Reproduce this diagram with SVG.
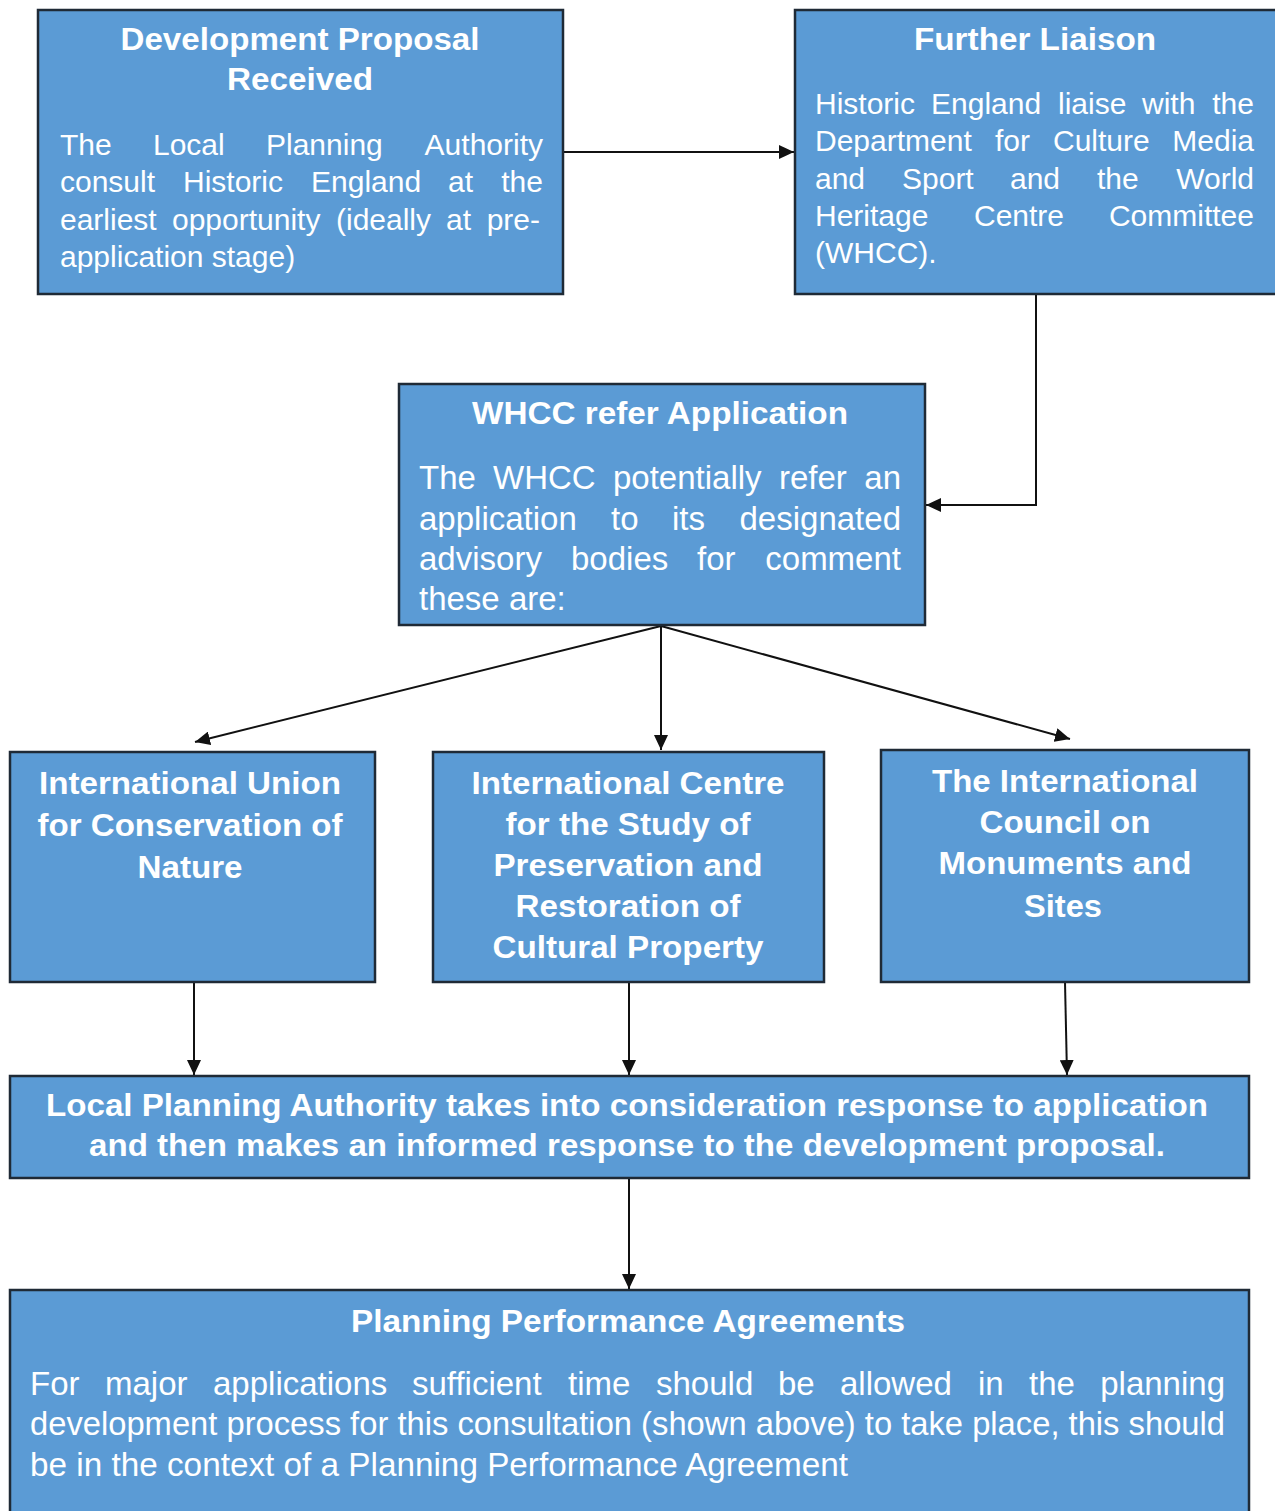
<svg xmlns="http://www.w3.org/2000/svg" width="1275" height="1511" viewBox="0 0 1275 1511">
<style>
.box{fill:#5b9bd5;stroke:#1f2a36;stroke-width:2.5}
.t{font-family:"Liberation Sans",Arial,sans-serif;fill:#ffffff}
.h{font-weight:bold;font-size:32px;text-anchor:middle}
.b{font-size:30px}
.b3{font-size:33px}
.b8{font-size:33px}
.c{fill:none;stroke:#111;stroke-width:2}
</style>
<defs>
<marker id="ah" markerUnits="userSpaceOnUse" markerWidth="16" markerHeight="14" refX="15" refY="7" orient="auto">
<path d="M0,0 L15,7 L0,14 Z" fill="#111"/>
</marker>
</defs>
<rect width="1275" height="1511" fill="#ffffff"/>
<g id="connectors">
<line class="c" x1="563" y1="152" x2="794" y2="152" marker-end="url(#ah)"/>
<polyline class="c" points="1036,294 1036,505 926,505" marker-end="url(#ah)"/>
<line class="c" x1="661" y1="626" x2="195" y2="742" marker-end="url(#ah)"/>
<line class="c" x1="661" y1="626" x2="661" y2="750" marker-end="url(#ah)"/>
<line class="c" x1="661" y1="626" x2="1070" y2="739" marker-end="url(#ah)"/>
<line class="c" x1="194" y1="982" x2="194" y2="1075" marker-end="url(#ah)"/>
<line class="c" x1="629" y1="982" x2="629" y2="1075" marker-end="url(#ah)"/>
<line class="c" x1="1065" y1="982" x2="1067" y2="1075" marker-end="url(#ah)"/>
<line class="c" x1="629" y1="1178" x2="629" y2="1289" marker-end="url(#ah)"/>
</g>
<g id="dev-proposal">
<rect class="box" x="38" y="10" width="525" height="284"/>
<text class="t h" x="300" y="50" textLength="359" lengthAdjust="spacingAndGlyphs">Development Proposal</text>
<text class="t h" x="300" y="90" textLength="146" lengthAdjust="spacingAndGlyphs">Received</text>
<text class="t b" y="155"><tspan x="60">The</tspan><tspan x="153">Local</tspan><tspan x="266">Planning</tspan><tspan x="543" text-anchor="end">Authority</tspan></text>
<text class="t b" y="192"><tspan x="60">consult</tspan><tspan x="183">Historic</tspan><tspan x="311">England</tspan><tspan x="448">at</tspan><tspan x="543" text-anchor="end">the</tspan></text>
<text class="t b" y="230"><tspan x="60">earliest</tspan><tspan x="172">opportunity</tspan><tspan x="336">(ideally</tspan><tspan x="446">at</tspan><tspan x="540" text-anchor="end">pre-</tspan></text>
<text class="t b" x="60" y="267">application stage)</text>
</g>
<g id="further-liaison">
<rect class="box" x="795" y="10" width="490" height="284"/>
<text class="t h" x="1035" y="50" textLength="242" lengthAdjust="spacingAndGlyphs">Further Liaison</text>
<text class="t b" y="114"><tspan x="815">Historic</tspan><tspan x="931">England</tspan><tspan x="1058">liaise</tspan><tspan x="1142">with</tspan><tspan x="1254" text-anchor="end">the</tspan></text>
<text class="t b" y="151"><tspan x="815">Department</tspan><tspan x="995">for</tspan><tspan x="1053">Culture</tspan><tspan x="1254" text-anchor="end">Media</tspan></text>
<text class="t b" y="189"><tspan x="815">and</tspan><tspan x="902">Sport</tspan><tspan x="1010">and</tspan><tspan x="1097">the</tspan><tspan x="1254" text-anchor="end">World</tspan></text>
<text class="t b" y="226"><tspan x="815">Heritage</tspan><tspan x="974">Centre</tspan><tspan x="1254" text-anchor="end">Committee</tspan></text>
<text class="t b" x="815" y="263">(WHCC).</text>
</g>
<g id="whcc-refer">
<rect class="box" x="399" y="384" width="526" height="241"/>
<text class="t h" x="660" y="424" textLength="376" lengthAdjust="spacingAndGlyphs">WHCC refer Application</text>
<text class="t b3" y="489"><tspan x="419">The</tspan><tspan x="493">WHCC</tspan><tspan x="613">potentially</tspan><tspan x="779">refer</tspan><tspan x="901" text-anchor="end">an</tspan></text>
<text class="t b3" y="530"><tspan x="419">application</tspan><tspan x="611">to</tspan><tspan x="672">its</tspan><tspan x="901" text-anchor="end">designated</tspan></text>
<text class="t b3" y="570"><tspan x="419">advisory</tspan><tspan x="571">bodies</tspan><tspan x="697">for</tspan><tspan x="901" text-anchor="end">comment</tspan></text>
<text class="t b3" x="419" y="610">these are:</text>
</g>
<g id="iucn">
<rect class="box" x="10" y="752" width="365" height="230"/>
<text class="t h" x="190" y="794" textLength="302" lengthAdjust="spacingAndGlyphs">International Union</text>
<text class="t h" x="190" y="836" textLength="305" lengthAdjust="spacingAndGlyphs">for Conservation of</text>
<text class="t h" x="190" y="878" textLength="105" lengthAdjust="spacingAndGlyphs">Nature</text>
</g>
<g id="iccrom">
<rect class="box" x="433" y="752" width="391" height="230"/>
<text class="t h" x="628" y="794" textLength="313" lengthAdjust="spacingAndGlyphs">International Centre</text>
<text class="t h" x="628" y="835" textLength="245" lengthAdjust="spacingAndGlyphs">for the Study of</text>
<text class="t h" x="628" y="876" textLength="269" lengthAdjust="spacingAndGlyphs">Preservation and</text>
<text class="t h" x="628" y="917" textLength="225" lengthAdjust="spacingAndGlyphs">Restoration of</text>
<text class="t h" x="628" y="958" textLength="271" lengthAdjust="spacingAndGlyphs">Cultural Property</text>
</g>
<g id="icomos">
<rect class="box" x="881" y="750" width="368" height="232"/>
<text class="t h" x="1065" y="792" textLength="266" lengthAdjust="spacingAndGlyphs">The International</text>
<text class="t h" x="1065" y="833" textLength="171" lengthAdjust="spacingAndGlyphs">Council on</text>
<text class="t h" x="1065" y="874" textLength="253" lengthAdjust="spacingAndGlyphs">Monuments and</text>
<text class="t h" x="1063" y="917" textLength="78" lengthAdjust="spacingAndGlyphs">Sites</text>
</g>
<g id="lpa-response">
<rect class="box" x="10" y="1076" width="1239" height="102"/>
<text class="t h" x="627" y="1116" textLength="1162" lengthAdjust="spacingAndGlyphs">Local Planning Authority takes into consideration response to application</text>
<text class="t h" x="627" y="1156" textLength="1076" lengthAdjust="spacingAndGlyphs">and then makes an informed response to the development proposal.</text>
</g>
<g id="ppa">
<rect class="box" x="10" y="1290" width="1239" height="240"/>
<text class="t h" x="628" y="1332" textLength="554" lengthAdjust="spacingAndGlyphs">Planning Performance Agreements</text>
<text class="t b8" y="1395"><tspan x="30">For</tspan><tspan x="105">major</tspan><tspan x="213">applications</tspan><tspan x="412">sufficient</tspan><tspan x="568">time</tspan><tspan x="656">should</tspan><tspan x="778">be</tspan><tspan x="840">allowed</tspan><tspan x="978">in</tspan><tspan x="1029">the</tspan><tspan x="1225" text-anchor="end">planning</tspan></text>
<text class="t b8" x="30" y="1435" textLength="1195" lengthAdjust="spacingAndGlyphs">development process for this consultation (shown above) to take place, this should</text>
<text class="t b8" x="30" y="1476" textLength="818" lengthAdjust="spacingAndGlyphs">be in the context of a Planning Performance Agreement</text>
</g>
</svg>
